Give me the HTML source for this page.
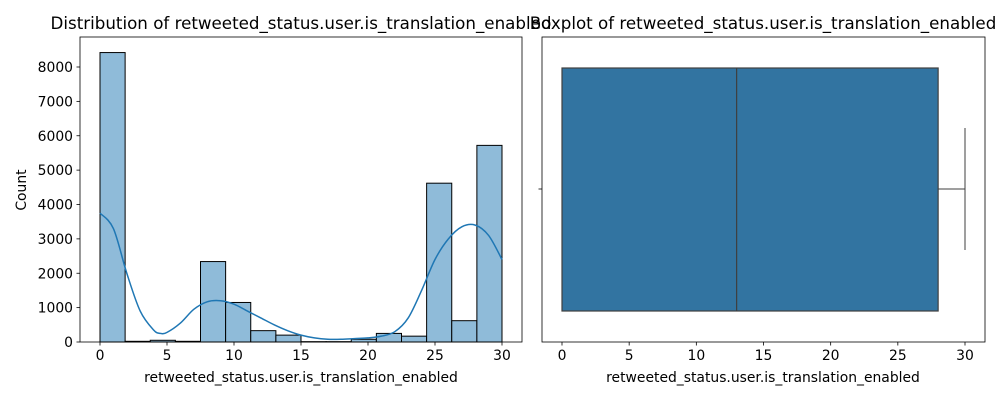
<!DOCTYPE html>
<html><head><meta charset="utf-8"><style>
body{margin:0;background:#fff;font-family:"Liberation Sans","DejaVu Sans",sans-serif}
svg text{font-family:"DejaVu Sans","Liberation Sans",sans-serif}
</style></head><body>
<svg id="c" width="1000" height="400" xmlns="http://www.w3.org/2000/svg"></svg>
<script>
const binEdges=[0,1.875,3.75,5.625,7.5,9.375,11.25,13.125,15,16.875,18.75,20.625,22.5,24.375,26.25,28.125,30];
const counts=[8420,20,50,20,2340,1150,330,200,10,10,80,250,170,4620,620,5720];
const kdeX=[0,1,2,3,4,4.5,5,6,7,8,9,10,11,12,13,14,15,16,17,18,19,20,21,22,23,24,25,26,27,28,29,30];
const kdeY=[3750,3300,2000,900,350,250,280,550,950,1170,1200,1100,900,700,500,330,200,120,80,80,100,120,170,300,700,1500,2400,3000,3350,3400,3100,2400];
const xTicks=[0,5,10,15,20,25,30];
const yTicks=[0,1000,2000,3000,4000,5000,6000,7000,8000];
const boxStats={min:0,q1:0,median:13,q3:28,max:30};
const svg=document.getElementById('c');const NS='http://www.w3.org/2000/svg';
function mk(t,a,p,name){const e=document.createElementNS(NS,t);for(const k in a)e.setAttribute(k,a[k]);


(p||svg).appendChild(e);return e;}
function txt(x,y,s,a,name,size){const e=mk('text',Object.assign({x:x,y:y,'font-size':size||13.9,fill:'#000'},a||{}),null,name);e.textContent=s;return e;}
function smooth(pts){let d='M'+pts[0][0]+','+pts[0][1];for(let i=0;i<pts.length-1;i++){const p0=pts[Math.max(0,i-1)],p1=pts[i],p2=pts[i+1],p3=pts[Math.min(pts.length-1,i+2)];
d+='C'+(p1[0]+(p2[0]-p0[0])/6)+','+(p1[1]+(p2[1]-p0[1])/6)+' '+(p2[0]-(p3[0]-p1[0])/6)+','+(p2[1]-(p3[1]-p1[1])/6)+' '+p2[0]+','+p2[1];}return d;}
const L={x0:80,x1:522,y0:37,y1:342};
const lx=v=>100+v*(502-100)/30, ly=v=>342-v*(342-67)/8000;
counts.forEach((c,i)=>{mk('rect',{x:lx(binEdges[i]),y:ly(c),width:lx(binEdges[i+1])-lx(binEdges[i]),height:342-ly(c),fill:'#8fbbd9',stroke:'#000','stroke-width':1},null,'hist-bar');});
mk('path',{d:smooth(kdeX.map((x,i)=>[lx(x),ly(kdeY[i])])),fill:'none',stroke:'#1f77b4','stroke-width':1.5},null,'kde-line');
mk('rect',{x:L.x0,y:L.y0,width:L.x1-L.x0,height:L.y1-L.y0,fill:'none',stroke:'#000','stroke-width':0.8},null,'left-axes-frame');
xTicks.forEach(t=>{mk('line',{x1:lx(t),x2:lx(t),y1:342,y2:345.5,stroke:'#000','stroke-width':0.8},null,'x-tick');txt(lx(t),360,t,{'text-anchor':'middle'},'x-tick-label');});
yTicks.forEach(t=>{mk('line',{x1:76.5,x2:80,y1:ly(t),y2:ly(t),stroke:'#000','stroke-width':0.8},null,'y-tick');txt(73,ly(t)+5,t,{'text-anchor':'end'},'y-tick-label');});
txt(301,382,'retweeted_status.user.is_translation_enabled',{'text-anchor':'middle'},'x-axis-title');
txt(26,190,'Count',{'text-anchor':'middle',transform:'rotate(-90 26 190)'},'y-axis-title');
txt(301,29,'Distribution of retweeted_status.user.is_translation_enabled',{'text-anchor':'middle'},'left-chart-title',16.7);
const R={x0:542,x1:985,y0:37,y1:342};
const rx=v=>562+v*(965-562)/30;
const g='#3f3f3f';
mk('line',{x1:rx(boxStats.q3),x2:rx(boxStats.max),y1:189,y2:189,stroke:g,'stroke-width':1},null,'upper-whisker');
mk('line',{x1:rx(boxStats.max),x2:rx(boxStats.max),y1:128,y2:250,stroke:g,'stroke-width':1},null,'upper-cap');
mk('line',{x1:rx(boxStats.min),x2:rx(boxStats.min),y1:128,y2:250,stroke:g,'stroke-width':1},null,'lower-cap');
mk('rect',{x:rx(boxStats.q1),y:68,width:rx(boxStats.q3)-rx(boxStats.q1),height:243,fill:'#3274a1',stroke:g,'stroke-width':1.2},null,'box');
mk('line',{x1:rx(boxStats.median),x2:rx(boxStats.median),y1:68,y2:311,stroke:g,'stroke-width':1.2},null,'median-line');
mk('rect',{x:R.x0,y:R.y0,width:R.x1-R.x0,height:R.y1-R.y0,fill:'none',stroke:'#000','stroke-width':0.8},null,'right-axes-frame');
xTicks.forEach(t=>{mk('line',{x1:rx(t),x2:rx(t),y1:342,y2:345.5,stroke:'#000','stroke-width':0.8},null,'box-x-tick');txt(rx(t),360,t,{'text-anchor':'middle'},'box-x-tick-label');});
mk('line',{x1:538.5,x2:542,y1:189,y2:189,stroke:'#000','stroke-width':0.8},null,'box-y-tick');
txt(763,382,'retweeted_status.user.is_translation_enabled',{'text-anchor':'middle'},'box-x-axis-title');
txt(763,29,'Boxplot of retweeted_status.user.is_translation_enabled',{'text-anchor':'middle'},'right-chart-title',16.7);
</script>
</body></html>
